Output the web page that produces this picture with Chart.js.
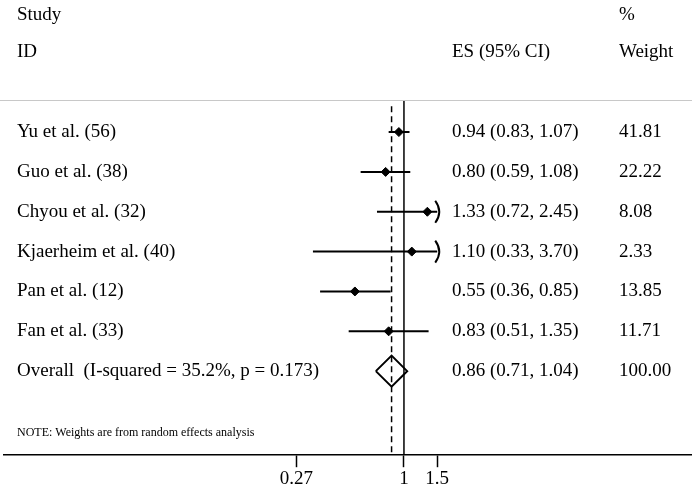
<!DOCTYPE html>
<html>
<head>
<meta charset="utf-8">
<script src="https://cdn.jsdelivr.net/npm/chart.js@4.4.0/dist/chart.umd.min.js"></script>
<style>
  html, body { margin: 0; padding: 0; background: #fff; }
  #wrap { width: 692px; height: 492px; position: relative; }
</style>
</head>
<body>
<div id="wrap"><canvas id="forest"></canvas></div>
<script>
// Study rows
const studies = ['Yu et al. (56)', 'Guo et al. (38)', 'Chyou et al. (32)', 'Kjaerheim et al. (40)', 'Pan et al. (12)', 'Fan et al. (33)'];
const es = [0.94, 0.80, 1.33, 1.10, 0.55, 0.83];
const ciLow = [0.83, 0.59, 0.72, 0.33, 0.36, 0.51];
const ciHigh = [1.07, 1.08, 2.45, 3.70, 0.85, 1.35];
const weights = [41.81, 22.22, 8.08, 2.33, 13.85, 11.71];

// Pooled estimate
const overallLabel = 'Overall  (I-squared = 35.2%, p = 0.173)';
const overallES = 0.86;
const overallLow = 0.71;
const overallHigh = 1.04;
const overallWeight = 100.00;

// Axis
const xTicks = [0.27, 1, 1.5];
const xClipMax = 1.5;   // CIs beyond this get an arrow
const noteText = 'NOTE: Weights are from random effects analysis';

// layout (in y-scale units, one unit per row)
const FONT = 'Liberation Serif';
const yMin = -3.314, yMax = 8.109;
const overallRow = studies.length;

const fmt = v => v.toFixed(2);

// one dataset per CI line
const ciSets = studies.map((s, i) => ({
  type: 'line',
  data: [{ x: ciLow[i], y: i }, { x: Math.min(ciHigh[i], xClipMax), y: i }],
  borderColor: '#000', borderWidth: 2, pointRadius: 0, showLine: true, order: 2
}));

const dh = 0.39; // half-height of the pooled diamond
const datasets = [
  {
    // null line
    type: 'line',
    data: [{ x: 1, y: -0.78 }, { x: 1, y: yMax }],
    borderColor: '#000', borderWidth: 1.5, pointRadius: 0, order: 3
  },
  {
    // dashed line at pooled estimate
    type: 'line',
    data: [{ x: overallES, y: -0.65 }, { x: overallES, y: yMax }],
    borderColor: '#000', borderWidth: 1.5, borderDash: [6, 4], pointRadius: 0, order: 3
  },
  ...ciSets,
  {
    // point estimates
    type: 'scatter',
    data: es.map((v, i) => ({ x: v, y: i })),
    pointStyle: 'rectRot', pointRadius: 4.5,
    backgroundColor: '#000', borderColor: '#000', order: 1
  },
  {
    // pooled diamond
    type: 'line',
    data: [
      { x: overallLow, y: overallRow },
      { x: overallES, y: overallRow - dh },
      { x: overallHigh, y: overallRow },
      { x: overallES, y: overallRow + dh },
      { x: overallLow, y: overallRow }
    ],
    borderColor: '#000', borderWidth: 2, pointRadius: 0, fill: false, tension: 0, order: 1
  }
];

// text columns, header, separator and arrows
const tablePlugin = {
  id: 'forestTable',
  afterDatasetsDraw(chart) {
    const ctx = chart.ctx;
    const xs = chart.scales.x, ys = chart.scales.y;
    const w = chart.width;
    ctx.save();
    ctx.fillStyle = '#000';
    ctx.textBaseline = 'middle';
    ctx.font = '19px "' + FONT + '"';

    const colName = 17, colES = 452, colW = 619;
    const hStudy = ys.getPixelForValue(-2.937);
    const hID = ys.getPixelForValue(-2.008);
    ctx.fillText('Study', colName, hStudy);
    ctx.fillText('%', colW, hStudy);
    ctx.fillText('ID', colName, hID);
    ctx.fillText('ES (95% CI)', colES, hID);
    ctx.fillText('Weight', colW, hID);

    studies.forEach((s, i) => {
      const y = ys.getPixelForValue(i);
      ctx.fillText(s, colName, y);
      ctx.fillText(fmt(es[i]) + ' (' + fmt(ciLow[i]) + ', ' + fmt(ciHigh[i]) + ')', colES, y);
      ctx.fillText(fmt(weights[i]), colW, y);
    });
    const yo = ys.getPixelForValue(overallRow);
    ctx.fillText(overallLabel, colName, yo);
    ctx.fillText(fmt(overallES) + ' (' + fmt(overallLow) + ', ' + fmt(overallHigh) + ')', colES, yo);
    ctx.fillText(fmt(overallWeight), colW, yo);

    ctx.font = '12px "' + FONT + '"';
    ctx.fillText(noteText, colName, ys.getPixelForValue(7.557));

    // grey separator under the header
    const ySep = Math.round(ys.getPixelForValue(-0.803)) + 0.5;
    ctx.strokeStyle = '#c8c8c8';
    ctx.lineWidth = 1;
    ctx.beginPath();
    ctx.moveTo(0, ySep);
    ctx.lineTo(w, ySep);
    ctx.stroke();

    // arrows where CI runs off the axis
    ctx.strokeStyle = '#000';
    ctx.lineWidth = 2;
    ciHigh.forEach((hi, i) => {
      if (hi <= xClipMax) return;
      const px = xs.getPixelForValue(xClipMax);
      const py = ys.getPixelForValue(i);
      ctx.beginPath();
      ctx.moveTo(px - 2, py - 11);
      ctx.quadraticCurveTo(px + 6, py, px - 2, py + 11);
      ctx.stroke();
    });
    ctx.restore();
  }
};

new Chart(document.getElementById('forest'), {
  type: 'scatter',
  data: { datasets },
  options: {
    responsive: true,
    maintainAspectRatio: false,
    animation: false,
    layout: { autoPadding: false, padding: { left: 4, right: 0, top: 0, bottom: 2 } },
    plugins: { legend: { display: false }, tooltip: { enabled: false } },
    scales: {
      x: {
        type: 'logarithmic',
        min: 0.00766,
        max: 33.4,
        afterBuildTicks: s => { s.ticks = xTicks.map(v => ({ value: v })); },
        grid: { drawOnChartArea: false, drawTicks: true, tickLength: 12, tickColor: '#000', tickWidth: 1.5 },
        border: { color: '#000', width: 1.5 },
        ticks: {
          color: '#000',
          font: { family: FONT, size: 19 },
          padding: 0,
          autoSkip: false,
          maxRotation: 0,
          callback: v => String(v)
        }
      },
      y: {
        type: 'linear',
        display: false,
        reverse: true,
        min: yMin,
        max: yMax
      }
    }
  },
  plugins: [tablePlugin]
});
</script>
</body>
</html>
